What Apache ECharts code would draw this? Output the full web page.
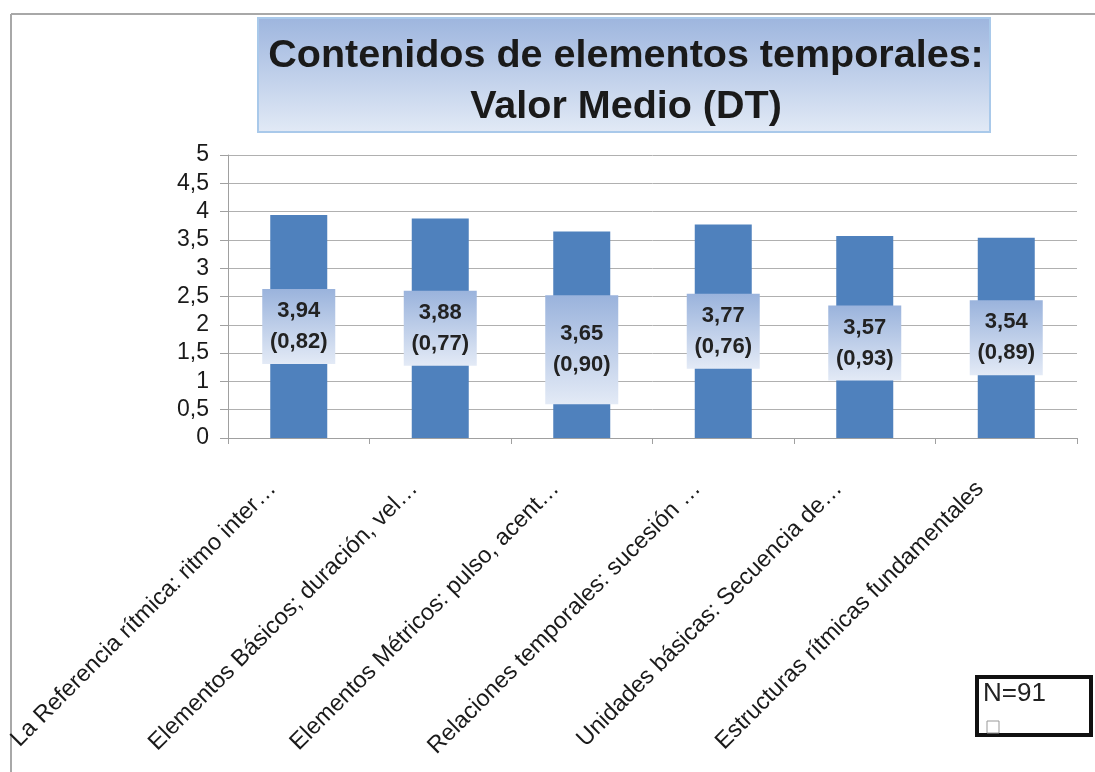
<!DOCTYPE html>
<html><head><meta charset="utf-8">
<script src="https://cdn.jsdelivr.net/npm/echarts@6/dist/echarts.min.js"></script>
<style>html,body{margin:0;padding:0;background:#fff}#c{width:1095px;height:772px}</style>
</head><body><div id="c"></div>
<script>
var categories = ["La Referencia rítmica: ritmo inter…","Elementos Básicos; duración, vel…","Elementos Métricos: pulso, acent…","Relaciones temporales: sucesión …","Unidades básicas: Secuencia de…","Estructuras rítmicas fundamentales"];
var means = [3.94,3.88,3.65,3.77,3.57,3.54];
var sds = [0.82,0.77,0.90,0.76,0.93,0.89];
var yTicks = ["0","0,5","1","1,5","2","2,5","3","3,5","4","4,5","5"];
var titleLines = ["Contenidos de elementos temporales:","Valor Medio (DT)"];
var noteText = "N=91";

function fmt(v){return v.toFixed(2).replace('.',',');}
var FONT = '"Liberation Sans", Arial, sans-serif';
var labelGrad = new echarts.graphic.LinearGradient(0,0,0,1,[{offset:0,color:'#9ab3dc'},{offset:1,color:'#e3eaf6'}]);
var data = means.map(function(v,i){
  var item = {value:v};
  if(i===2){ item.label={padding:[10,6,37,6], offset:[0,15]}; }
  if(i===4){ item.label={offset:[0,6]}; }
  return item;
});
var chart = echarts.init(document.getElementById('c'));
chart.setOption({
  animation:false,
  grid:{left:228,right:18,top:155,bottom:334,containLabel:false,outerBoundsMode:'none'},
  graphic:[
    {type:'line',shape:{x1:11,y1:14,x2:1095,y2:14},style:{stroke:'#a8a8a8',lineWidth:2}},
    {type:'line',shape:{x1:11,y1:14,x2:11,y2:772},style:{stroke:'#a8a8a8',lineWidth:2}},
    {type:'rect',shape:{x:258,y:18,width:732,height:114},
     style:{fill:new echarts.graphic.LinearGradient(0,0,0,1,[{offset:0,color:'#9db5de'},{offset:1,color:'#e2eaf6'}]),stroke:'#a9c9ea',lineWidth:2}},
    {type:'text',style:{x:626,y:56,text:titleLines[0],textAlign:'center',textVerticalAlign:'middle',font:'bold 39.5px '+FONT,fill:'#1a1a1a'}},
    {type:'text',style:{x:626,y:107,text:titleLines[1],textAlign:'center',textVerticalAlign:'middle',font:'bold 39.5px '+FONT,fill:'#1a1a1a'}},
    {type:'rect',shape:{x:977,y:677,width:114,height:58},style:{fill:'#fff',stroke:'#111',lineWidth:4}},
    {type:'text',style:{x:983,y:681,text:noteText,font:'26px '+FONT,fill:'#222'}},
    {type:'rect',shape:{x:987,y:721,width:12,height:12},style:{fill:'none',stroke:'#999',lineWidth:1}}
  ],
  xAxis:{type:'category',data:categories,
    axisLine:{lineStyle:{color:'#a0a0a0',width:1}},
    axisTick:{show:true,length:6,lineStyle:{color:'#a0a0a0'},alignWithLabel:false},
    axisLabel:{rotate:45,interval:0,margin:21,padding:[0,37,0,0],fontSize:23.5,color:'#1a1a1a',fontFamily:FONT}},
  yAxis:{type:'value',min:0,max:5,interval:0.5,
    axisLine:{show:true,lineStyle:{color:'#a0a0a0'}},
    axisTick:{show:true,length:8,lineStyle:{color:'#a0a0a0'}},
    splitLine:{lineStyle:{color:'#b0b0b0',width:1}},
    axisLabel:{margin:19,fontSize:23,color:'#1a1a1a',fontFamily:FONT,
      formatter:function(v){return yTicks[Math.round(v*2)];}}},
  series:[{type:'bar',data:data,barWidth:57,itemStyle:{color:'#4f81bd'},
    label:{show:true,position:'inside',
      formatter:function(p){return fmt(means[p.dataIndex])+'\n('+fmt(sds[p.dataIndex])+')';},
      fontSize:22,fontWeight:'bold',lineHeight:31,color:'#222',fontFamily:FONT,
      backgroundColor:labelGrad,padding:[7,6,6,6],width:61,align:'center'}}]
});
</script></body></html>
